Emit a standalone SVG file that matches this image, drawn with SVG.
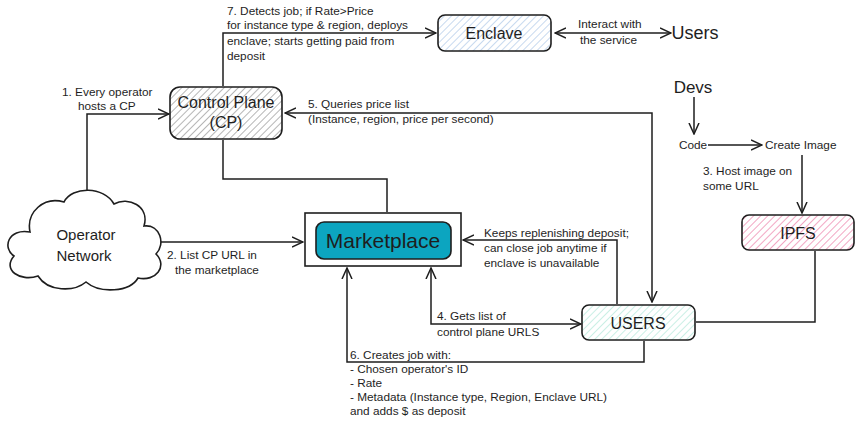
<svg xmlns="http://www.w3.org/2000/svg" width="860" height="423" viewBox="0 0 860 423">
<style>
.t{font-family:"Liberation Sans","Noto Sans",sans-serif;font-size:11.8px;fill:#1e1e1e}
.n{font-family:"Liberation Sans","Noto Sans",sans-serif;font-size:16px;fill:#1e1e1e;text-anchor:middle}
.box{stroke:#1e1e1e;stroke-width:1.6}
.c{fill:none;stroke:#1e1e1e;stroke-width:1.5}
</style>
<defs>
<marker id="ah" viewBox="0 0 12 12" refX="11" refY="6" markerWidth="12" markerHeight="12" markerUnits="userSpaceOnUse" orient="auto-start-reverse">
<path d="M0,1 L11,6 L0,11" fill="none" stroke="#1e1e1e" stroke-width="1.5"/>
</marker>
<pattern id="hg" width="5" height="5" patternUnits="userSpaceOnUse" patternTransform="rotate(45)"><line x1="0" y1="0" x2="0" y2="5" stroke="#6e6e6e" stroke-width="1"/></pattern>
<pattern id="hb" width="5" height="5" patternUnits="userSpaceOnUse" patternTransform="rotate(45)"><line x1="0" y1="0" x2="0" y2="5" stroke="#8fb4e0" stroke-width="1"/></pattern>
<pattern id="hn" width="5" height="5" patternUnits="userSpaceOnUse" patternTransform="rotate(45)"><line x1="0" y1="0" x2="0" y2="5" stroke="#96e0cc" stroke-width="1"/></pattern>
<pattern id="hp" width="5" height="5" patternUnits="userSpaceOnUse" patternTransform="rotate(45)"><line x1="0" y1="0" x2="0" y2="5" stroke="#e6508a" stroke-width="1"/></pattern>
</defs>
<rect width="860" height="423" fill="#ffffff"/>

<g id="connectors">
<path class="c" d="M87,190 V114 H169" marker-end="url(#ah)"/>
<path class="c" d="M223,86 V33 H436" marker-end="url(#ah)"/>
<path class="c" d="M555,33 H671" marker-start="url(#ah)" marker-end="url(#ah)"/>
<path class="c" d="M223,140 V179 H387 V212"/>
<path class="c" d="M160,242 H303" marker-end="url(#ah)"/>
<path class="c" d="M652,302 V113 H285" marker-start="url(#ah)" marker-end="url(#ah)"/>
<path class="c" d="M617,304 V240 H463" marker-end="url(#ah)"/>
<path class="c" d="M581,324 H431 V268" marker-start="url(#ah)" marker-end="url(#ah)"/>
<path class="c" d="M644,341 V362 H347 V268" marker-end="url(#ah)"/>
<path class="c" d="M815,251 V322 H696"/>
<path class="c" d="M694,97 V134" marker-end="url(#ah)"/>
<path class="c" d="M708,145 H762" marker-end="url(#ah)"/>
<path class="c" d="M802,155 V213" marker-end="url(#ah)"/>
</g>

<g id="labels">
<text class="t" x="62" y="96">1. Every operator</text>
<text class="t" x="78" y="110">hosts a CP</text>
<text class="t" x="227" y="15">7. Detects job; if Rate&gt;Price</text>
<text class="t" x="227" y="29">for instance type &amp; region, deploys</text>
<text class="t" x="227" y="45">enclave; starts getting paid from</text>
<text class="t" x="227" y="60">deposit</text>
<text class="t" x="578" y="28">Interact with</text>
<text class="t" x="580" y="44">the service</text>
<text class="t" x="308" y="108">5. Queries price list</text>
<text class="t" x="308" y="123">(Instance, region, price per second)</text>
<text class="t" x="167" y="259">2. List CP URL in</text>
<text class="t" x="175" y="274">the marketplace</text>
<text class="t" x="484" y="237">Keeps replenishing deposit;</text>
<text class="t" x="484" y="252">can close job anytime if</text>
<text class="t" x="484" y="267">enclave is unavailable</text>
<text class="t" x="437" y="320">4. Gets list of</text>
<text class="t" x="437" y="336">control plane URLS</text>
<text class="t" x="350" y="359">6. Creates job with:</text>
<text class="t" x="350" y="373">- Chosen operator's ID</text>
<text class="t" x="350" y="387">- Rate</text>
<text class="t" x="350" y="401">- Metadata (Instance type, Region, Enclave URL)</text>
<text class="t" x="350" y="415">and adds $ as deposit</text>
<text class="t" x="703" y="175">3. Host image on</text>
<text class="t" x="703" y="190">some URL</text>
</g>

<g id="control-plane">
<rect class="box" x="170" y="87" width="112" height="52" rx="10" fill="url(#hg)"/>
<text class="n" x="226" y="108">Control Plane</text>
<text class="n" x="226" y="128">(CP)</text>
</g>

<g id="enclave">
<rect class="box" x="438" y="15" width="113" height="36" rx="7" fill="url(#hb)"/>
<text class="n" x="494" y="39">Enclave</text>
</g>

<g id="users-top">
<text class="n" x="695" y="39" style="font-size:18px">Users</text>
</g>

<g id="operator-network">
<path class="box" fill="#ffffff" d="M30,232 C8,228 2,248 14,256 C2,270 20,282 38,276 C48,292 74,292 86,282 C100,294 130,292 138,278 C156,282 168,266 156,254 C166,244 160,224 144,226 C150,206 128,196 114,204 C104,186 72,186 64,202 C44,196 26,212 30,232 Z"/>
<text class="n" x="86" y="240" style="font-size:15px">Operator</text>
<text class="n" x="84" y="261" style="font-size:15px">Network</text>
</g>

<g id="marketplace">
<rect class="box" x="305" y="213" width="156" height="53" fill="#ffffff"/>
<rect class="box" x="316" y="222" width="135" height="37" rx="8" fill="#0ca5c0"/>
<text class="n" x="383" y="248" style="font-size:21px">Marketplace</text>
</g>

<g id="users">
<rect class="box" x="582" y="305" width="113" height="35" rx="7" fill="url(#hn)"/>
<text class="n" x="638" y="329">USERS</text>
</g>

<g id="ipfs">
<rect class="box" x="742" y="215" width="112" height="35" rx="7" fill="url(#hp)"/>
<text class="n" x="798" y="239">IPFS</text>
</g>

<g id="devs">
<text class="n" x="693" y="93" style="font-size:17px">Devs</text>
</g>
<g id="code">
<text class="t" x="693" y="149" text-anchor="middle">Code</text>
</g>
<g id="create-image">
<text class="t" x="765" y="149">Create Image</text>
</g>
</svg>
